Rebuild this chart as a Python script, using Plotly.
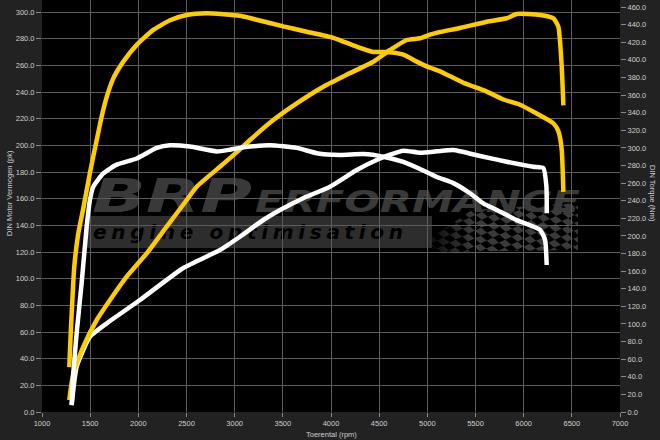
import base64
import plotly.graph_objects as go

# ---------------- data ----------------
tuned_torque_rpm = [1283, 1298, 1315, 1335, 1377, 1430, 1498, 1568, 1620, 1672, 1740, 1844, 1983,
                    2155, 2329, 2502, 2710, 3055, 3159, 3505, 3748, 4024, 4267, 4439, 4578, 4751,
                    4890, 5028, 5132, 5374, 5617, 5789, 5962, 6135, 6308, 6360, 6395, 6412]
tuned_torque_nm = [51, 89, 127, 165, 203, 232, 272, 309, 336, 358, 379, 398, 417,
                   434, 445, 451, 453, 450, 447.5, 438, 432, 425, 415, 409, 409, 406,
                   398, 391, 387, 374, 364, 355, 349, 339, 328, 319, 298, 250]

tuned_power_rpm = [1283, 1325, 1429, 1568, 1706, 1879, 2087, 2294, 2502, 2606, 2848, 3055, 3159,
                   3401, 3644, 3920, 4163, 4439, 4613, 4786, 4924, 5028, 5132, 5339, 5617, 5824,
                   5928, 6170, 6308, 6360, 6395, 6412]
tuned_power_pk = [9, 29, 49, 69, 84, 101.5, 119, 139, 159, 169, 184, 197, 204,
                  219, 231.5, 244, 253, 262.7, 271.5, 279, 280.3, 283, 285, 288, 292.7, 295.3,
                  298.5, 297.8, 295.3, 289, 259, 230]

stock_torque_rpm = [1308, 1325, 1360, 1412, 1464, 1498, 1533, 1636, 1775, 1983, 2191, 2329, 2536,
                    2814, 2952, 3055, 3159, 3367, 3644, 3852, 4094, 4336, 4543, 4751, 4924, 5097,
                    5270, 5443, 5581, 5720, 5928, 6170, 6222, 6239]
stock_torque_nm = [8, 44, 90, 147, 211, 241, 256, 271, 281, 288, 300, 303, 301.5,
                   296, 298, 300, 301.5, 303, 300, 294, 292, 293, 290, 284, 276, 267,
                   260, 248.5, 237, 229.5, 218, 207, 195.5, 167]

stock_power_rpm = [1308, 1360, 1498, 1672, 2017, 2467, 2848, 3055, 3297, 3471, 3700, 3990, 4267,
                   4474, 4613, 4751, 4924, 5100, 5270, 5547, 5824, 6100, 6204, 6236, 6240]
stock_power_pk = [5, 34, 56.5, 66.5, 84, 108, 121.5, 131.5, 144, 151.5, 160, 169, 181.5,
                  189, 193, 196, 194.5, 195.5, 196.5, 192, 187.7, 184, 183, 169, 149]

x_title = "Toerental (rpm)"
y_title = "DIN Motor Vermogen (pk)"
y2_title = "DIN Torque (Nm)"

# ---------------- style ----------------
YELLOW = "#FFCC00"
WHITE = "#FFFFFF"
TXT = "#cfcfcf"
GRID = "#5c5c5c"
FONT = "Liberation Sans"

fig = go.Figure()

line_kw = dict(shape="spline", smoothing=0.5, width=4.5)
fig.add_trace(go.Scatter(x=stock_torque_rpm, y=stock_torque_nm, mode="lines", yaxis="y2",
                         line=dict(color=WHITE, **line_kw), showlegend=False, hoverinfo="skip"))
fig.add_trace(go.Scatter(x=stock_power_rpm, y=stock_power_pk, mode="lines",
                         line=dict(color=WHITE, **line_kw), showlegend=False, hoverinfo="skip"))
fig.add_trace(go.Scatter(x=tuned_torque_rpm, y=tuned_torque_nm, mode="lines", yaxis="y2",
                         line=dict(color=YELLOW, **line_kw), showlegend=False, hoverinfo="skip"))
fig.add_trace(go.Scatter(x=tuned_power_rpm, y=tuned_power_pk, mode="lines",
                         line=dict(color=YELLOW, **line_kw), showlegend=False, hoverinfo="skip"))

# ---------------- watermark logo (svg image behind the grid) ----------------
svg = '''<svg xmlns="http://www.w3.org/2000/svg" width="578" height="412" viewBox="0 0 578 412">
<defs>
<pattern id="chk" width="14" height="14" patternUnits="userSpaceOnUse" patternTransform="rotate(-25) skewX(25)">
<rect width="7" height="7" fill="#3a3a3a"/><rect x="7" y="7" width="7" height="7" fill="#3a3a3a"/>
</pattern>
<linearGradient id="fade" x1="0" x2="1" y1="0" y2="0">
<stop offset="0" stop-color="#fff" stop-opacity="0"/><stop offset="0.35" stop-color="#fff" stop-opacity="1"/>
</linearGradient>
<mask id="m"><rect x="375" y="195" width="165" height="60" fill="url(#fade)"/></mask>
</defs>
<rect x="45" y="216" width="345" height="32" fill="#2d2d2d"/>
<polygon points="383,242 430,210 536,203 536,250 400,252" fill="url(#chk)" mask="url(#m)"/>
<text x="50" y="212" font-family="DejaVu Sans" font-weight="bold" font-style="italic" font-size="46"
 fill="#393939" textLength="160" lengthAdjust="spacingAndGlyphs">BRP</text>
<text x="213" y="212" font-family="DejaVu Sans" font-weight="bold" font-style="italic" font-size="30"
 fill="#393939" textLength="325" lengthAdjust="spacingAndGlyphs">ERFORMANCE</text>
<text x="51" y="239" font-family="DejaVu Sans" font-weight="bold" font-style="italic" font-size="20"
 fill="#000000" textLength="310" lengthAdjust="spacing">engine  optimisation</text>
</svg>'''
src = "data:image/svg+xml;base64," + base64.b64encode(svg.encode()).decode()

tickfont = dict(family=FONT, size=7.5, color=TXT)

fig.update_layout(
    width=660, height=440,
    margin=dict(l=42, r=40, t=0, b=28, pad=0),
    paper_bgcolor="#222222",
    plot_bgcolor="#000000",
    font=dict(family=FONT, size=7.5, color=TXT),
    xaxis=dict(range=[1000, 7000], dtick=500, tick0=1000, tickformat="d",
               showgrid=True, gridcolor=GRID, gridwidth=1, zeroline=False, showline=False,
               ticks="outside", ticklen=4, tickcolor="#888888", tickfont=tickfont, automargin=False),
    yaxis=dict(range=[0, 309], dtick=20, tick0=0, tickformat=".1f",
               showgrid=True, gridcolor=GRID, gridwidth=1, zeroline=False, showline=False,
               ticks="outside", ticklen=5, tickcolor="#888888", tickfont=tickfont, automargin=False),
    yaxis2=dict(range=[0, 468], dtick=20, tick0=0, tickformat=".1f", overlaying="y", side="right",
                showgrid=False, zeroline=False, showline=False,
                ticks="outside", ticklen=5, tickcolor="#888888", tickfont=tickfont, automargin=False),
    images=[dict(source=src, xref="paper", yref="paper", x=0, y=1, sizex=1, sizey=1,
                 xanchor="left", yanchor="top", sizing="stretch", layer="below")],
    annotations=[
        dict(text=x_title, xref="paper", yref="paper", x=0.5, y=-0.0534, showarrow=False,
             xanchor="center", yanchor="middle", font=dict(family=FONT, size=7.5, color=TXT)),
        dict(text=y_title, xref="paper", yref="paper", x=-0.0554, y=0.5316, showarrow=False,
             textangle=-90, xanchor="center", yanchor="middle", font=dict(family=FONT, size=7.5, color=TXT)),
        dict(text=y2_title, xref="paper", yref="paper", x=1.0554, y=0.5316, showarrow=False,
             textangle=90, xanchor="center", yanchor="middle", font=dict(family=FONT, size=7.5, color=TXT)),
    ],
)

fig.write_html("out.html", config={"displayModeBar": False},
               post_script="document.body.style.margin='0';document.body.style.overflow='hidden';")
